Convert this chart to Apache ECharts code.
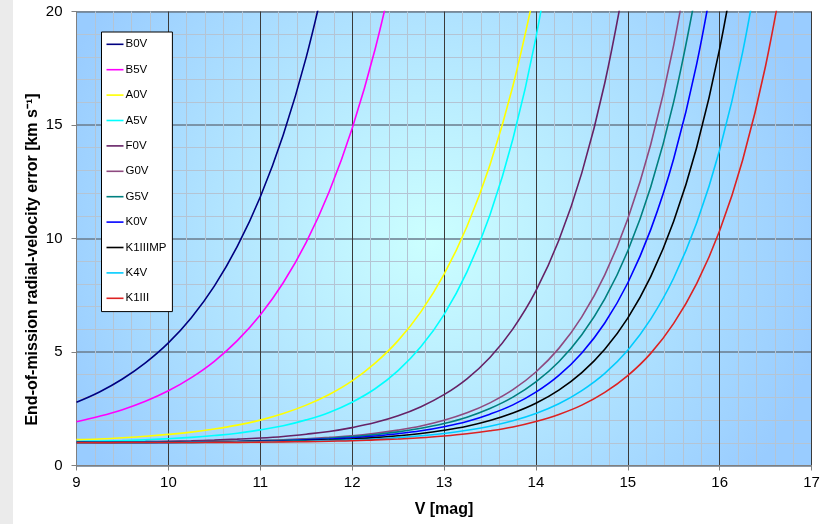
<!DOCTYPE html>
<html>
<head>
<meta charset="utf-8">
<script src="https://cdn.jsdelivr.net/npm/echarts@6/dist/echarts.min.js"></script>
<style>
html,body{margin:0;padding:0;}
body{width:823px;height:524px;background:linear-gradient(to right,#ebebeb 13px,#ffffff 13px);}
#c{width:823px;height:524px;}
</style>
</head>
<body>
<div id="c"></div>
<script>
// V magnitude sample points
const V = [9, 9.25, 9.5, 9.75, 10, 10.25, 10.5, 10.75, 11, 11.25, 11.5, 11.75, 12, 12.25, 12.5, 12.75, 13, 13.25, 13.5, 13.75, 14, 14.25, 14.5, 14.75, 15, 15.25, 15.5, 15.75, 16, 16.25, 16.5, 16.75];

const seriesNames = ['B0V','B5V','A0V','A5V','F0V','G0V','G5V','K0V','K1IIIMP','K4V','K1III'];

const B0V = [2.79, 3.24, 3.81, 4.52, 5.40, 6.51, 7.90, 9.65, 11.83, 14.56, 17.98, 22.26];
const B5V = [1.93, 2.17, 2.46, 2.83, 3.29, 3.87, 4.59, 5.50, 6.63, 8.05, 9.83, 12.06, 14.85, 18.34, 22.72];
const A0V = [1.14, 1.17, 1.22, 1.29, 1.37, 1.47, 1.61, 1.78, 2.00, 2.29, 2.66, 3.13, 3.73, 4.51, 5.50, 6.78, 8.42, 10.53, 13.24, 16.72, 21.18];
const A5V = [1.06, 1.08, 1.10, 1.13, 1.18, 1.24, 1.32, 1.42, 1.57, 1.75, 2.01, 2.34, 2.79, 3.38, 4.18, 5.24, 6.65, 8.53, 11.04, 14.38, 18.84, 24.78];
const F0V = [1.02, 1.03, 1.04, 1.05, 1.07, 1.09, 1.12, 1.16, 1.21, 1.28, 1.38, 1.50, 1.67, 1.89, 2.19, 2.59, 3.12, 3.82, 4.76, 6.02, 7.69, 9.92, 12.89, 16.85, 22.13];
const G0V = [1.01, 1.01, 1.02, 1.02, 1.03, 1.04, 1.06, 1.07, 1.10, 1.13, 1.18, 1.24, 1.31, 1.42, 1.56, 1.74, 1.99, 2.32, 2.76, 3.34, 4.12, 5.16, 6.55, 8.40, 10.86, 14.14, 18.52, 24.36];
const G5V = [1.01, 1.01, 1.02, 1.02, 1.03, 1.04, 1.05, 1.06, 1.09, 1.11, 1.15, 1.20, 1.27, 1.36, 1.48, 1.64, 1.85, 2.13, 2.51, 3.01, 3.68, 4.57, 5.76, 7.34, 9.45, 12.27, 16.02, 21.02];
const K0V = [1.01, 1.01, 1.01, 1.02, 1.02, 1.03, 1.04, 1.05, 1.07, 1.09, 1.13, 1.17, 1.22, 1.30, 1.40, 1.53, 1.71, 1.94, 2.26, 2.67, 3.23, 3.97, 4.96, 6.28, 8.04, 10.39, 13.51, 17.68, 23.24];
const K1IIIMP = [1.01, 1.01, 1.01, 1.01, 1.02, 1.02, 1.03, 1.04, 1.06, 1.07, 1.10, 1.13, 1.17, 1.23, 1.31, 1.41, 1.55, 1.73, 1.98, 2.31, 2.74, 3.32, 4.09, 5.12, 6.49, 8.32, 10.76, 14.01, 18.35, 24.12];
const K4V = [1.00, 1.01, 1.01, 1.01, 1.01, 1.02, 1.02, 1.03, 1.04, 1.06, 1.07, 1.10, 1.13, 1.17, 1.23, 1.31, 1.41, 1.55, 1.73, 1.97, 2.29, 2.72, 3.30, 4.06, 5.08, 6.45, 8.26, 10.68, 13.90, 18.20, 23.92];
const K1III = [1.00, 1.00, 1.01, 1.01, 1.01, 1.01, 1.02, 1.02, 1.03, 1.04, 1.05, 1.07, 1.09, 1.13, 1.17, 1.22, 1.30, 1.40, 1.53, 1.70, 1.94, 2.25, 2.66, 3.22, 3.96, 4.94, 6.26, 8.01, 10.34, 13.45, 17.60, 23.13];

const xTicks = [9, 10, 11, 12, 13, 14, 15, 16, 17];
const yTicks = [0, 5, 10, 15, 20];

const seriesValues = [B0V, B5V, A0V, A5V, F0V, G0V, G5V, K0V, K1IIIMP, K4V, K1III];
const colors = ['#000080', '#ff00ff', '#ffff00', '#00ffff', '#662266', '#8e4a80', '#008080', '#0000ff', '#000000', '#00ccff', '#dd2222'];

const FONT = 'Liberation Sans, Arial, sans-serif';

const chart = echarts.init(document.getElementById('c'), null, {renderer: 'canvas'});

const series = seriesNames.map((name, i) => ({
  name: name,
  type: 'line',
  data: seriesValues[i].map((y, j) => [V[j], y]),
  symbol: 'none',
  smooth: 0.4,
  clip: true,
  lineStyle: {color: colors[i], width: 1.6},
  itemStyle: {color: colors[i]},
  z: 3
}));

chart.setOption({
  animation: false,
  backgroundColor: 'transparent',
  grid: {
    left: 76.5, right: 11.5, top: 11.5, bottom: 58.5,
    show: true,
    borderColor: '#b4b4b4',
    borderWidth: 1,
    backgroundColor: {
      type: 'radial', x: 0.48, y: 0.5, r: 0.88,
      colorStops: [
        {offset: 0, color: '#ccffff'},
        {offset: 1, color: '#99ccff'}
      ]
    }
  },
  legend: {
    orient: 'vertical',
    left: 101.5,
    top: 32,
    padding: [5.3, 6, 6.3, 5],
    icon: 'rect',
    itemWidth: 17,
    itemHeight: 1.6,
    itemGap: 11.4,
    backgroundColor: '#ffffff',
    borderColor: '#000000',
    borderWidth: 1,
    borderRadius: 0,
    data: seriesNames,
    textStyle: {fontFamily: FONT, fontSize: 11.5, color: '#000', lineHeight: 14, padding: [0, 0, 0, -3]}
  },
  xAxis: {
    type: 'value',
    min: xTicks[0],
    max: xTicks[xTicks.length - 1],
    interval: 1,
    name: 'V [mag]',
    nameLocation: 'middle',
    nameGap: 36,
    nameMoveOverlap: false,
    nameTextStyle: {fontFamily: FONT, fontSize: 16, fontWeight: 'bold', color: '#000'},
    axisLine: {show: true, onZero: false, lineStyle: {color: '#808080', width: 1}},
    axisTick: {show: true, length: 5, lineStyle: {color: '#808080'}},
    axisLabel: {fontFamily: FONT, fontSize: 15, color: '#000', margin: 10},
    splitLine: {show: true, lineStyle: {color: '#3a3a3a', width: 1}},
    minorTick: {show: false, splitNumber: 5},
    minorSplitLine: {show: true, lineStyle: {color: '#b4c4d4', width: 1}}
  },
  yAxis: {
    type: 'value',
    min: yTicks[0],
    max: yTicks[yTicks.length - 1],
    interval: 5,
    name: 'End-of-mission radial-velocity error [km s\u207B\u00B9]',
    nameLocation: 'middle',
    nameGap: 36,
    nameMoveOverlap: false,
    nameTextStyle: {fontFamily: FONT, fontSize: 16, fontWeight: 'bold', color: '#000', padding: [0, 42, 0, 0]},
    axisLine: {show: true, onZero: false, lineStyle: {color: '#808080', width: 1}},
    axisTick: {show: true, length: 5, lineStyle: {color: '#808080'}},
    axisLabel: {fontFamily: FONT, fontSize: 15, color: '#000', margin: 14},
    splitLine: {show: true, lineStyle: {color: '#6a7b8c', width: 1.5}},
    minorTick: {show: false, splitNumber: 5},
    minorSplitLine: {show: true, lineStyle: {color: '#b4c4d4', width: 1}}
  },
  series: series
});
</script>
</body>
</html>
